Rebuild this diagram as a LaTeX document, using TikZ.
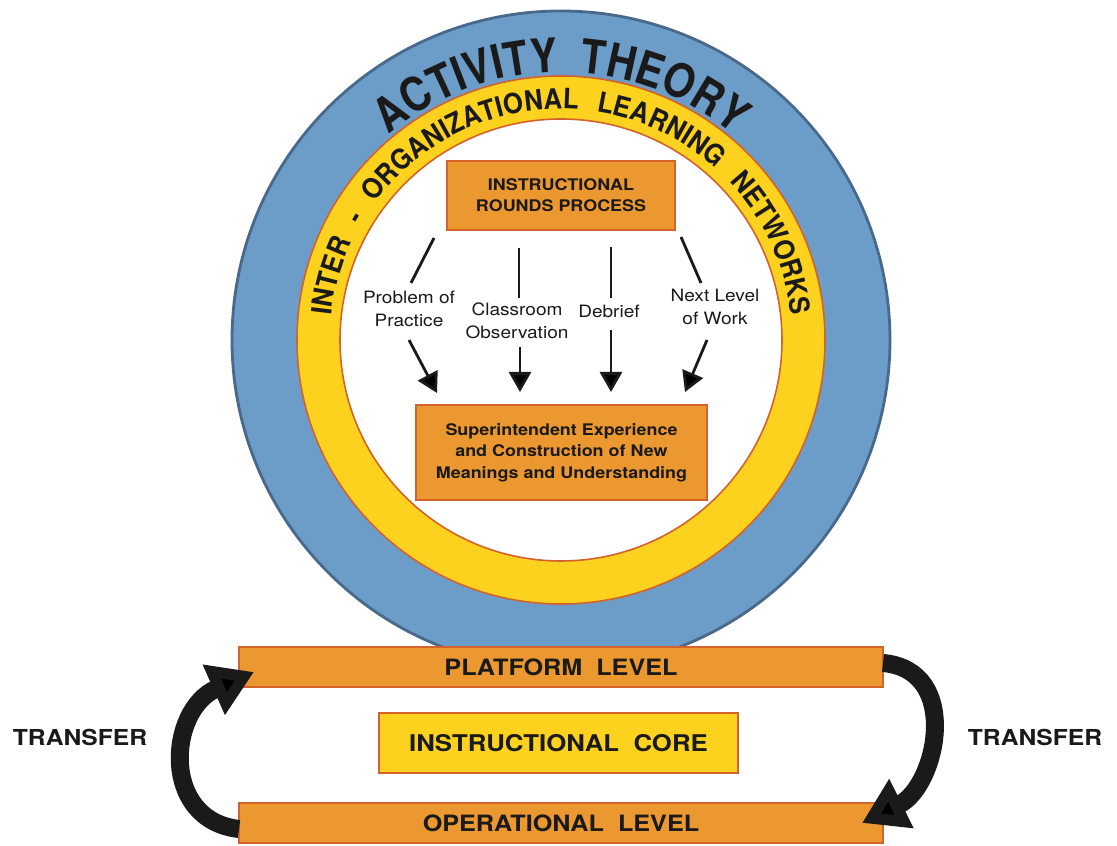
\documentclass[tikz,border=0pt]{standalone}
\usepackage{fontspec}
\setmainfont{TeX Gyre Heros}
\newfontfamily\widefont[FakeStretch=1.12]{TeX Gyre Heros}
\newfontfamily\outerfont[FakeStretch=0.86]{TeX Gyre Heros}
\newfontfamily\innerfont[FakeStretch=0.92]{TeX Gyre Heros}
\usetikzlibrary{arrows.meta,decorations.text}
\definecolor{ringblue}{HTML}{6C9CC8}
\definecolor{ringblueline}{HTML}{48698C}
\definecolor{ringyellow}{HTML}{FCD21E}
\definecolor{boxorange}{HTML}{EC9830}
\definecolor{edgeorange}{HTML}{D4622B}
\definecolor{ink}{HTML}{1A1A1A}
\begin{document}
\begin{tikzpicture}[x=1pt,y=1pt,
 orangebox/.style={draw=edgeorange, line width=1.6pt, fill=boxorange, inner sep=0pt, text=ink, align=center},
 barbox/.style={orangebox, minimum width=644pt, minimum height=40pt, font=\widefont\bfseries\fontsize{22.5}{22.5}\selectfont},
 steplabel/.style={text=ink, align=center, inner sep=0pt, font=\widefont\fontsize{17}{22.5}\selectfont},
 stepline/.style={draw=ink, line width=2.8pt},
 steparrow/.style={stepline, -{Triangle[length=20pt,width=22pt]}},
 transferarrow/.style={draw=ink, line width=18pt, -{Triangle[length=44pt,width=52pt]}},
 transferlabel/.style={text=ink, inner sep=0pt, font=\widefont\bfseries\fontsize{22}{22}\selectfont}
]
\useasboundingbox (0,0) rectangle (1117,846);
\fill[white] (0,0) rectangle (1117,846);
\coordinate (c) at (561,506);
% rings
\draw[fill=ringblue, draw=ringblueline, line width=2.8pt] (c) circle[radius=329];
\draw[fill=ringyellow, draw=edgeorange, line width=1.6pt] (c) circle[radius=264];
\draw[fill=white, draw=edgeorange, line width=1.6pt] (c) circle[radius=221];
% arc texts
\path[decorate, decoration={text along path, text color=ink,
  text={|\outerfont\bfseries\fontsize{47}{47}\selectfont|ACTIVITY THEORY},
  text align={fit to path stretching spaces}}]
  (c) ++(130:268) arc[start angle=130, end angle=50, radius=268];
\path[decorate, decoration={text along path, text color=ink,
  text={|\innerfont\bfseries\fontsize{28}{28}\selectfont|INTER - ORGANIZATIONAL LEARNING NETWORKS},
  text align={fit to path stretching spaces}}]
  (c) ++(174:231) arc[start angle=174, end angle=6, radius=231];
% boxes
\node[orangebox, minimum width=228pt, minimum height=69pt,
  font=\widefont\bfseries\fontsize{16}{21}\selectfont] (rounds) at (561,650.5) {INSTRUCTIONAL\\ROUNDS PROCESS};
\node[orangebox, minimum width=291pt, minimum height=95pt,
  font=\widefont\bfseries\fontsize{16}{21.3}\selectfont] (super) at (561.5,393.5)
  {Superintendent Experience\\and Construction of New\\Meanings and Understanding};
% labels
\node[steplabel] (ppract) at (409,537) {Problem of\\Practice};
\node[steplabel] (cobs) at (517,525) {Classroom\\Observation};
\node[steplabel] (debr) at (609,535) {Debrief};
\node[steplabel] (nlev) at (715,539) {Next Level\\of Work};
% connector end points
\coordinate (a1s) at (434,608); \coordinate (a1e) at (411,563);
\coordinate (b1s) at (409,506); \coordinate (b1e) at (437,453);
\coordinate (a2s) at (519,598); \coordinate (a2e) at (519,548);
\coordinate (b2s) at (520,499); \coordinate (b2e) at (520,454);
\coordinate (a3s) at (611,599); \coordinate (a3e) at (611,548);
\coordinate (b3s) at (611,516); \coordinate (b3e) at (611,454);
\coordinate (a4s) at (681,609); \coordinate (a4e) at (701,563);
\coordinate (b4s) at (707,506); \coordinate (b4e) at (685,454);
\draw[stepline] (a1s) -- (a1e);
\draw[steparrow] (b1s) -- (b1e);
\draw[stepline] (a2s) -- (a2e);
\draw[steparrow] (b2s) -- (b2e);
\draw[stepline] (a3s) -- (a3e);
\draw[steparrow] (b3s) -- (b3e);
\draw[stepline] (a4s) -- (a4e);
\draw[steparrow] (b4s) -- (b4e);
% bottom
\node[barbox] (platform) at (561,179) {PLATFORM\ \ LEVEL};
\node[draw=edgeorange, line width=1.6pt, fill=ringyellow, inner sep=0pt, text=ink,
  minimum width=359pt, minimum height=60pt,
  font=\widefont\bfseries\fontsize{23}{23}\selectfont] (core) at (558.5,103) {INSTRUCTIONAL\ \ CORE};
\node[barbox] (operational) at (561,23) {OPERATIONAL\ \ LEVEL};
\node[transferlabel] (tleft) at (80,109) {TRANSFER};
\node[transferlabel] (tright) at (1035,109) {TRANSFER};
% transfer arrows
\coordinate (ls) at (239,17); \coordinate (le) at (254,174);
\coordinate (rs) at (883,183); \coordinate (re) at (862,23);
\draw[transferarrow] (ls) .. controls (160,26) and (168,136) .. (le);
\draw[transferarrow] (rs) .. controls (962,176) and (937,60) .. (re);
\end{tikzpicture}
\end{document}
